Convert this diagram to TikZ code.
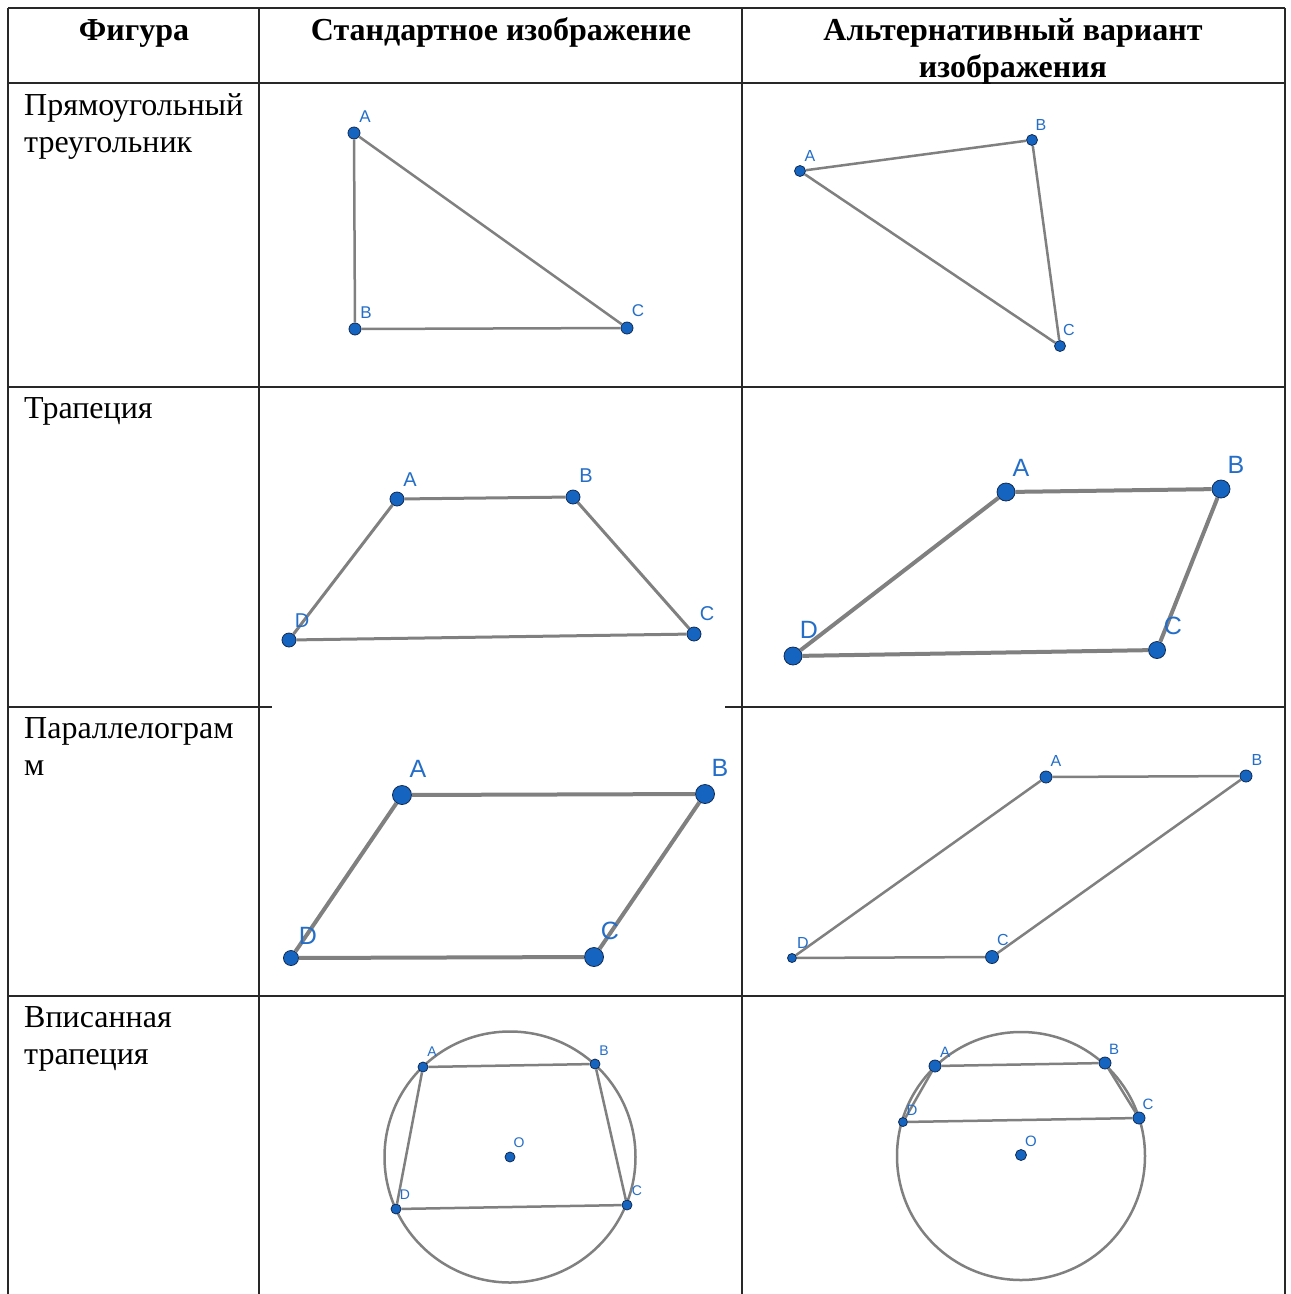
\documentclass[tikz,border=0pt]{standalone}
\usepackage{fontspec}
\setmainfont{Liberation Serif}
\newfontfamily\lblfont{Liberation Sans}
\definecolor{segcol}{RGB}{128,128,128}
\definecolor{ptfill}{RGB}{21,101,192}
\definecolor{ptedge}{RGB}{16,42,84}
\definecolor{lblcol}{RGB}{36,110,200}
\definecolor{gridcol}{RGB}{40,40,40}
\begin{document}
\begin{tikzpicture}[x=1bp,y=-1bp,
  grid/.style={draw=gridcol,line width=1.4bp},
  seg/.style={draw=segcol,line width=#1},
  seg/.default=2.5bp,
  pt/.style={circle,fill=ptfill,draw=ptedge,line width=0.8bp,inner sep=0pt,minimum size=#1},
  pt/.default=12bp,
  lbl/.style={text=lblcol,inner sep=0pt,font=\lblfont\fontsize{#1}{#1}\selectfont},
  hdr/.style={anchor=base,inner sep=0pt,font=\fontsize{32bp}{37bp}\selectfont\bfseries},
  body/.style={anchor=base west,inner sep=0pt,font=\fontsize{32bp}{37bp}\selectfont}]
\useasboundingbox[fill=white] (0,0) rectangle (1291,1294);

% table grid
\draw[grid] (8,8) -- (1285,8);
\draw[grid] (8,8) -- (8,1294);
\draw[grid] (259,8) -- (259,1294);
\draw[grid] (742,8) -- (742,1294);
\draw[grid] (1285,8) -- (1285,1294);
\draw[grid] (8,83) -- (1285,83);
\draw[grid] (8,387) -- (1285,387);
\draw[grid] (8,707) -- (272,707);
\draw[grid] (725,707) -- (1285,707);
\draw[grid] (8,996) -- (1285,996);

% header
\node[hdr] (h1) at (134,40) {Фигура};
\node[hdr] (h2) at (501,40) {Стандартное изображение};
\node[hdr] (h3a) at (1013,40) {Альтернативный вариант};
\node[hdr] (h3b) at (1013,77) {изображения};

% first column
\node[body] (t1a) at (24,115) {Прямоугольный};
\node[body] (t1b) at (24,152) {треугольник};
\node[body] (t2a) at (24,418) {Трапеция};
\node[body] (t3a) at (24,738) {Параллелограм};
\node[body] (t3b) at (24,775) {м};
\node[body] (t4a) at (24,1027) {Вписанная};
\node[body] (t4b) at (24,1064) {трапеция};

% ---------- row 1, standard
\node[pt=12bp] (a1) at (354,133) {};
\node[pt=12bp] (b1) at (355,329) {};
\node[pt=12bp] (c1) at (627,328) {};
\draw[seg=2.5bp] (a1) -- (b1);
\draw[seg=2.5bp] (b1) -- (c1);
\draw[seg=2.5bp] (c1) -- (a1);
\node[lbl=17bp] (la1) at (365,117) {A};
\node[lbl=17bp] (lb1) at (366,313) {B};
\node[lbl=17bp] (lc1) at (638,311) {C};

% ---------- row 1, alternative
\node[pt=11bp] (a1x) at (800,171) {};
\node[pt=11bp] (b1x) at (1032,140) {};
\node[pt=11bp] (c1x) at (1060,346) {};
\draw[seg=2.5bp] (a1x) -- (b1x);
\draw[seg=2.5bp] (b1x) -- (c1x);
\draw[seg=2.5bp] (c1x) -- (a1x);
\node[lbl=16bp] (la1x) at (810,156) {A};
\node[lbl=16bp] (lb1x) at (1041,125) {B};
\node[lbl=16bp] (lc1x) at (1069,330) {C};

% ---------- row 2, standard
\node[pt=14bp] (a2) at (397,499) {};
\node[pt=14bp] (b2) at (573,497) {};
\node[pt=14bp] (c2) at (694,634) {};
\node[pt=14bp] (d2) at (289,640) {};
\draw[seg=3bp] (a2) -- (b2);
\draw[seg=3bp] (b2) -- (c2);
\draw[seg=3bp] (c2) -- (d2);
\draw[seg=3bp] (d2) -- (a2);
\node[lbl=20bp] (la2) at (410,480) {A};
\node[lbl=20bp] (lb2) at (586,476) {B};
\node[lbl=20bp] (lc2) at (707,614) {C};
\node[lbl=20bp] (ld2) at (302,621) {D};

% ---------- row 2, alternative
\node[pt=18bp] (a2x) at (1006,492) {};
\node[pt=18bp] (b2x) at (1221,489) {};
\node[pt=17bp] (c2x) at (1157,650) {};
\node[pt=18bp] (d2x) at (793,656) {};
\draw[seg=4bp] (a2x) -- (b2x);
\draw[seg=4bp] (b2x) -- (c2x);
\draw[seg=4bp] (c2x) -- (d2x);
\draw[seg=4bp] (d2x) -- (a2x);
\node[lbl=25bp] (la2x) at (1021,468) {A};
\node[lbl=25bp] (lb2x) at (1236,465) {B};
\node[lbl=25bp] (lc2x) at (1173,626) {C};
\node[lbl=25bp] (ld2x) at (809,630) {D};

% ---------- row 3, standard
\node[pt=19bp] (a3) at (402,795) {};
\node[pt=19bp] (b3) at (705,794) {};
\node[pt=19bp] (c3) at (594,957) {};
\node[pt=15bp] (d3) at (291,958) {};
\draw[seg=4bp] (a3) -- (b3);
\draw[seg=4bp] (b3) -- (c3);
\draw[seg=4bp] (c3) -- (d3);
\draw[seg=4bp] (d3) -- (a3);
\node[lbl=25bp] (la3) at (418,769) {A};
\node[lbl=25bp] (lb3) at (720,768) {B};
\node[lbl=25bp] (lc3) at (610,931) {C};
\node[lbl=25bp] (ld3) at (308,936) {D};

% ---------- row 3, alternative
\node[pt=12bp] (a3x) at (1046,777) {};
\node[pt=12bp] (b3x) at (1246,776) {};
\node[pt=13bp] (c3x) at (992,957) {};
\node[pt=9bp] (d3x) at (792,958) {};
\draw[seg=2.5bp] (a3x) -- (b3x);
\draw[seg=2.5bp] (b3x) -- (c3x);
\draw[seg=2.5bp] (c3x) -- (d3x);
\draw[seg=2.5bp] (d3x) -- (a3x);
\node[lbl=16bp] (la3x) at (1056,761) {A};
\node[lbl=16bp] (lb3x) at (1257,760) {B};
\node[lbl=16bp] (lc3x) at (1003,940) {C};
\node[lbl=16bp] (ld3x) at (803,943) {D};

% ---------- row 4, standard
\draw[seg=2.5bp] (510,1157) circle (125.5);
\node[pt=10bp] (a4) at (423,1067) {};
\node[pt=10bp] (b4) at (595,1064) {};
\node[pt=10bp] (c4) at (627,1205) {};
\node[pt=10bp] (d4) at (396,1209) {};
\node[pt=10bp] (o4) at (510,1157) {};
\draw[seg=2.5bp] (a4) -- (b4);
\draw[seg=2.5bp] (b4) -- (c4);
\draw[seg=2.5bp] (c4) -- (d4);
\draw[seg=2.5bp] (d4) -- (a4);
\node[lbl=14bp] (la4) at (432,1052) {A};
\node[lbl=14bp] (lb4) at (604,1051) {B};
\node[lbl=14bp] (lc4) at (637,1191) {C};
\node[lbl=14bp] (ld4) at (405,1195) {D};
\node[lbl=14bp] (lo4) at (519,1143) {O};

% ---------- row 4, alternative
\draw[seg=2.5bp] (1021,1156) circle (124);
\node[pt=12bp] (a4x) at (935,1066) {};
\node[pt=12bp] (b4x) at (1105,1063) {};
\node[pt=12bp] (c4x) at (1139,1118) {};
\node[pt=9bp] (d4x) at (903,1122) {};
\node[pt=11bp] (o4x) at (1021,1155) {};
\draw[seg=2.5bp] (a4x) -- (b4x);
\draw[seg=2.5bp] (b4x) -- (c4x);
\draw[seg=2.5bp] (c4x) -- (d4x);
\draw[seg=2.5bp] (d4x) -- (a4x);
\node[lbl=15bp] (la4x) at (945,1052) {A};
\node[lbl=15bp] (lb4x) at (1114,1049) {B};
\node[lbl=15bp] (lc4x) at (1148,1104) {C};
\node[lbl=15bp] (ld4x) at (912,1110) {D};
\node[lbl=15bp] (lo4x) at (1031,1141) {O};
\end{tikzpicture}
\end{document}
